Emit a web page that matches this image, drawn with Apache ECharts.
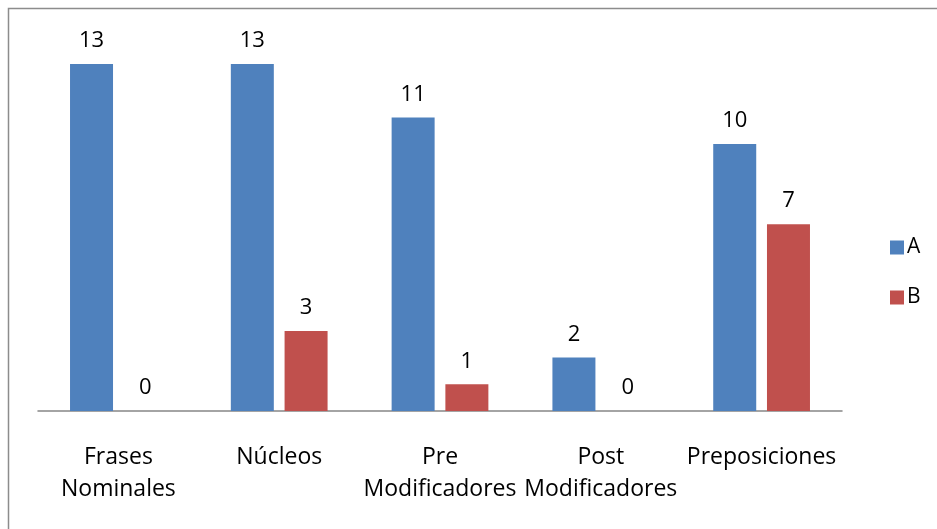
<!DOCTYPE html>
<html><head><meta charset="utf-8">
<script src="https://cdn.jsdelivr.net/npm/echarts@6/dist/echarts.min.js"></script>
<style>html,body{margin:0;padding:0;background:#fff}#c{width:937px;height:529px}</style>
</head><body><div id="c"></div>
<script>
const categories = ["Frases\nNominales", "Núcleos", "Pre\nModificadores", "Post\nModificadores", "Preposiciones"];
const seriesA = [13, 13, 11, 2, 10];
const seriesB = [0, 3, 1, 0, 7];
const FONT = "Open Sans";
const chart = echarts.init(document.getElementById('c'), null, {renderer: 'canvas'});
const labelStyle = {show: true, position: 'top', distance: 12, color: '#000', fontFamily: FONT, fontSize: 22};
chart.setOption({
  animation: false,
  textStyle: {fontFamily: FONT},
  graphic: [{type: 'rect', shape: {x: 8.5, y: 8.5, width: 1000, height: 600}, style: {fill: 'none', stroke: '#8c8c8c', lineWidth: 1.5}, silent: true}],
  grid: {left: 38, right: 95, top: 64, bottom: 118, containLabel: false},
  legend: {
    orient: 'vertical', left: 885, top: 232, itemWidth: 14, itemHeight: 14, itemGap: 29,
    icon: 'rect', textStyle: {fontFamily: FONT, fontSize: 21, color: '#000', padding: [0,0,0,-2]},
    data: ['A', 'B']
  },
  xAxis: {
    type: 'category', data: categories,
    axisLine: {lineStyle: {color: '#868686', width: 1.5}},
    axisTick: {show: false},
    axisLabel: {color: '#000', fontFamily: FONT, fontSize: 23, lineHeight: 32, margin: 30, interval: 0}
  },
  yAxis: {type: 'value', min: 0, max: 13, show: false, splitLine: {show: false}},
  series: [
    {name: 'A', type: 'bar', data: seriesA, barWidth: 43, barGap: '25%', itemStyle: {color: '#4F81BD'}, label: labelStyle},
    {name: 'B', type: 'bar', data: seriesB, barWidth: 43, itemStyle: {color: '#C0504D'}, label: labelStyle}
  ]
});
</script></body></html>
